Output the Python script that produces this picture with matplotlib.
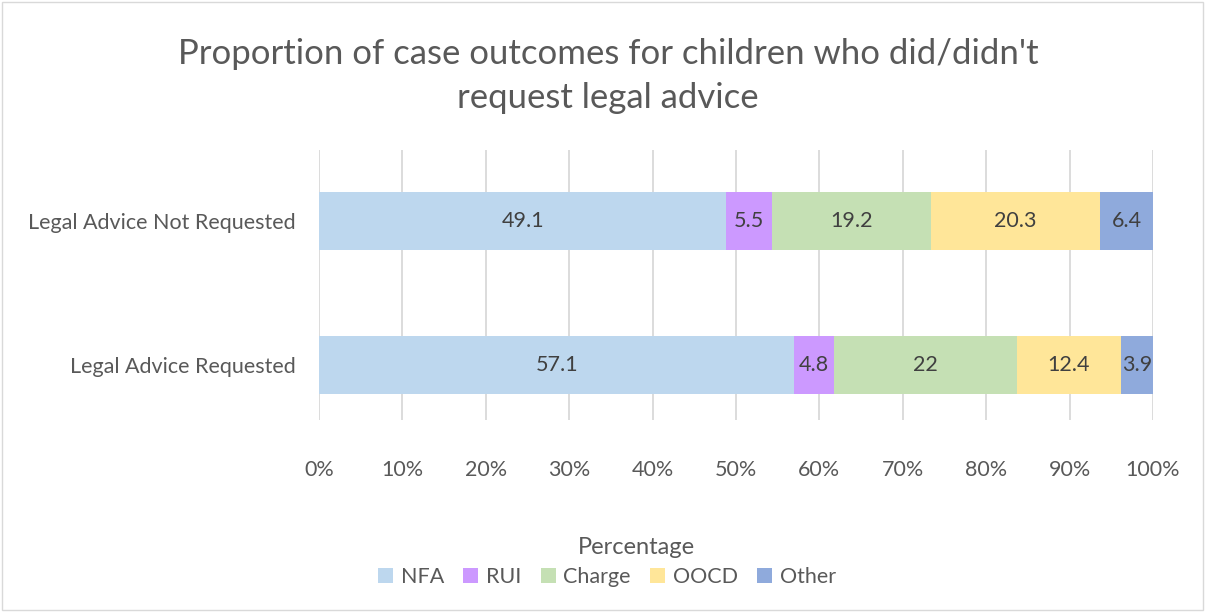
import numpy as np
import matplotlib.pyplot as plt
from matplotlib.patches import Rectangle

plt.rcParams['font.family'] = ['Lato', 'DejaVu Sans']

categories = ['Legal Advice Requested', 'Legal Advice Not Requested']
series = ['NFA', 'RUI', 'Charge', 'OOCD', 'Other']
values = {
    'NFA': [57.1, 49.1],
    'RUI': [4.8, 5.5],
    'Charge': [22, 19.2],
    'OOCD': [12.4, 20.3],
    'Other': [3.9, 6.4],
}
colors = ['#bdd7ee', '#cc99ff', '#c5e0b4', '#ffe699', '#8faadc']
xticks = np.arange(0, 101, 10)

txt = '#595959'
fig = plt.figure(figsize=(12.05, 6.12), dpi=100)
ax = fig.add_axes([319 / 1205, 1 - 420 / 612, (1153 - 319) / 1205, 270 / 612])

totals = np.sum([values[s] for s in series], axis=0)
y = np.arange(len(categories))
left = np.zeros(len(categories))
for s, c in zip(series, colors):
    raw = np.array(values[s])
    w = raw / totals * 100
    ax.barh(y, w, left=left, height=0.396, color=c, label=s, zorder=3)
    for yi, li, wi, r in zip(y, left, w, raw):
        ax.text(li + wi / 2, yi, f'{r:g}', ha='center', va='center',
                fontsize=15.5, color='#404040', zorder=4)
    left += w

ax.set_xlim(0, 100)
ax.set_ylim(-0.382, 1.493)
ax.set_xticks(xticks)
ax.set_xticklabels([f'{t}%' for t in xticks])
ax.set_yticks(y)
ax.set_yticklabels(categories)
ax.tick_params(axis='both', length=0, labelsize=15.5, labelcolor=txt)
ax.tick_params(axis='x', pad=29)
ax.tick_params(axis='y', pad=17)
ax.grid(axis='x', color='#d9d9d9', linewidth=1.3, zorder=0)
for sp in ax.spines.values():
    sp.set_visible(False)

fig.text(608 / 1205, 1 - 76 / 612, "Proportion of case outcomes for children who did/didn't\nrequest legal advice",
         ha='center', va='center', fontsize=25, color=txt, linespacing=1.45)
fig.text(636 / 1205, 1 - 547 / 612, 'Percentage', ha='center', va='center', fontsize=17, color=txt)

leg = fig.legend(loc='center', bbox_to_anchor=(607 / 1205, 1 - 577 / 612), ncol=5, frameon=False,
                 fontsize=15.5, handlelength=0.7, handleheight=0.7, handletextpad=0.35,
                 columnspacing=0.9, labelcolor=txt)

fig.patches.append(Rectangle((0.002, 0.003), 0.996, 0.994, transform=fig.transFigure,
                             fill=False, edgecolor='#d9d9d9', linewidth=1))

fig.savefig('out.png', dpi=100)
